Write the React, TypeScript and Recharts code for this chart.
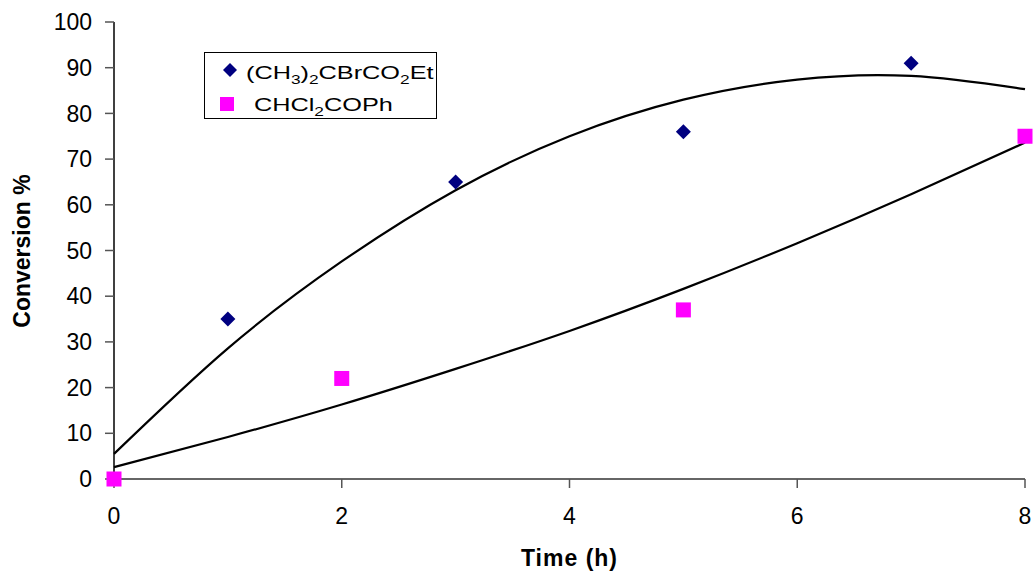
import { ComposedChart, Line, Scatter, XAxis, YAxis, Legend } from "recharts"

const seriesNames = ["(CH3)2CBrCO2Et", "CHCl2COPh"]

// measured points
const timeA = [1, 3, 5, 7]
const convA = [35, 65, 76, 91]
const timeB = [0, 2, 5, 8]
const convB = [0, 22, 37, 75]

// trend lines
const fitTime = [0, 1, 2, 3, 4, 5, 6, 7, 8]
const fitConvA = [5.5, 28.6, 47.6, 63.2, 75.0, 83.0, 87.4, 88.2, 85.3]
const fitConvB = [2.6, 9.2, 16.3, 24.1, 32.4, 41.6, 51.6, 62.3, 73.6]

const xTicks = [0, 2, 4, 6, 8]
const yTicks = [0, 10, 20, 30, 40, 50, 60, 70, 80, 90, 100]

const pointsA = timeA.map((x, i) => ({ x, y: convA[i] }))
const pointsB = timeB.map((x, i) => ({ x, y: convB[i] }))
const fitA = fitTime.map((x, i) => ({ x, y: fitConvA[i] }))
const fitB = fitTime.map((x, i) => ({ x, y: fitConvB[i] }))

const NAVY = "#000080"
const MAGENTA = "#ff00ff"
const FONT = "'Liberation Sans', Arial, sans-serif"

const Diamond = (props: any) => {
  const { cx, cy } = props
  const r = 7.5
  return <path d={`M${cx},${cy - r}L${cx + r},${cy}L${cx},${cy + r}L${cx - r},${cy}Z`} fill={NAVY} />
}

const Square = (props: any) => {
  const { cx, cy } = props
  return <rect x={cx - 7.5} y={cy - 7.5} width={15} height={15} fill={MAGENTA} />
}

const sub = { fontSize: 13 }
const wide = { transform: "scaleX(1.33)", transformOrigin: "left center" }

function LegendBox() {
  return (
    <div
      style={{
        position: "relative",
        width: 233,
        height: 67,
        border: "1px solid #000",
        background: "#fff",
        fontFamily: FONT,
        fontSize: 19,
        lineHeight: "19px",
        color: "#000",
        boxSizing: "border-box",
      }}
    >
      <svg width={14} height={14} style={{ position: "absolute", left: 18, top: 10 }}>
        <path d="M7,0L14,7L7,14L0,7Z" fill={NAVY} />
      </svg>
      <span style={{ position: "absolute", left: 41, top: 10, whiteSpace: "nowrap", ...wide }}>
        (CH<sub style={sub}>3</sub>)<sub style={sub}>2</sub>CBrCO<sub style={sub}>2</sub>Et
      </span>
      <svg width={14} height={14} style={{ position: "absolute", left: 15, top: 44 }}>
        <rect x={0} y={0} width={14} height={14} fill={MAGENTA} />
      </svg>
      <span style={{ position: "absolute", left: 49, top: 42, whiteSpace: "nowrap", ...wide }}>
        CHCl<sub style={sub}>2</sub>COPh
      </span>
    </div>
  )
}

export default function App() {
  return (
    <div style={{ position: "absolute", left: 0, top: 0, background: "#fff" }}>
      <ComposedChart
        width={1033}
        height={573}
        margin={{ top: 22, right: 8, bottom: 0, left: 0 }}
        style={{ fontFamily: FONT }}
      >
        <XAxis
          type="number"
          dataKey="x"
          domain={[0, 8]}
          ticks={xTicks}
          tickSize={9}
          tickMargin={20}
          height={94}
          axisLine={{ stroke: "#333", strokeWidth: 1.5 }}
          tickLine={{ stroke: "#555", strokeWidth: 1.5 }}
          tick={{ fill: "#000", fontSize: 23 }}
          label={{ value: "Time (h)", position: "insideBottom", offset: 7, fill: "#000", fontSize: 23, fontWeight: "bold", letterSpacing: 1 }}
        />
        <YAxis
          type="number"
          dataKey="y"
          domain={[0, 100]}
          ticks={yTicks}
          tickSize={9}
          tickMargin={13}
          width={114}
          axisLine={{ stroke: "#000", strokeWidth: 1.5 }}
          tickLine={{ stroke: "#555", strokeWidth: 1.5 }}
          tick={{ fill: "#000", fontSize: 23 }}
          label={{
            content: () => (
              <text
                x={22}
                y={251}
                transform="rotate(-90, 22, 251)"
                textAnchor="middle"
                dominantBaseline="central"
                fill="#000"
                fontSize={23}
                fontWeight="bold"
                fontFamily={FONT}
              >
                Conversion %
              </text>
            ),
          }}
        />
        <Line data={fitA} dataKey="y" type="natural" stroke="#000" strokeWidth={2.2} dot={false} isAnimationActive={false} legendType="none" />
        <Line data={fitB} dataKey="y" type="natural" stroke="#000" strokeWidth={2.2} dot={false} isAnimationActive={false} legendType="none" />
        <Scatter name={seriesNames[0]} data={pointsA} dataKey="y" shape={Diamond} isAnimationActive={false} />
        <Scatter name={seriesNames[1]} data={pointsB} dataKey="y" shape={Square} isAnimationActive={false} />
        <Legend
          layout="vertical"
          align="center"
          verticalAlign="middle"
          content={() => <LegendBox />}
          wrapperStyle={{ left: 204, top: 52, width: 233, height: 67 }}
        />
      </ComposedChart>
    </div>
  )
}
